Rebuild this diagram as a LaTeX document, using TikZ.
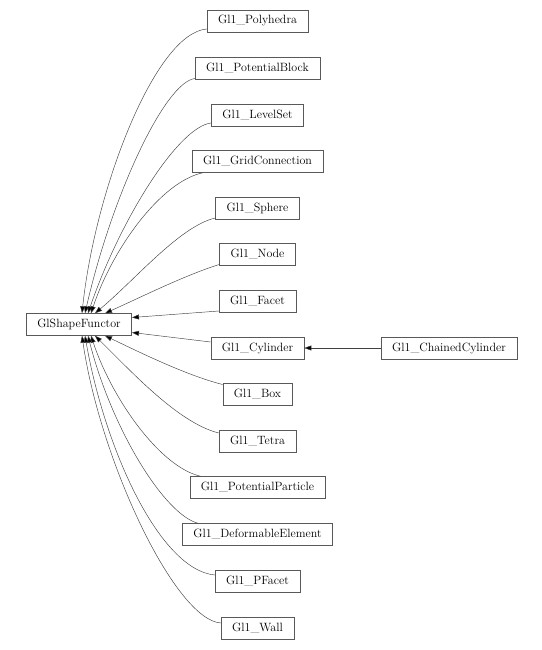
\documentclass[tikz,border=0pt]{standalone}
\usetikzlibrary{arrows.meta}
\begin{document}
\begin{tikzpicture}[x=1pt,y=-1pt,
  cls/.style={draw=black!65, line width=0.5pt, fill=white, minimum height=22pt, inner xsep=11pt, inner ysep=2pt, font=\fontsize{12}{14}\selectfont},
  edge/.style={draw=black!75, line width=0.45pt, -{Triangle[length=7pt,width=5pt,fill=black]}}]
\path[use as bounding box] (0,0) rectangle (541,650);
\node[cls] (gsf) at (79,324.5) {GlShapeFunctor};
\node[cls] (poly) at (257.5,21) {Gl1\_Polyhedra};
\node[cls] (pblock) at (257.5,68.5) {Gl1\_PotentialBlock};
\node[cls] (lset) at (257.5,115) {Gl1\_LevelSet};
\node[cls] (grid) at (257.5,161.5) {Gl1\_GridConnection};
\node[cls] (sphere) at (257.5,208) {Gl1\_Sphere};
\node[cls] (gnode) at (257.5,254.5) {Gl1\_Node};
\node[cls] (facet) at (257.5,301) {Gl1\_Facet};
\node[cls] (cyl) at (257.5,348) {Gl1\_Cylinder};
\node[cls] (chcyl) at (449,348) {Gl1\_ChainedCylinder};
\node[cls] (box) at (257.5,394.5) {Gl1\_Box};
\node[cls] (tetra) at (257.5,441) {Gl1\_Tetra};
\node[cls] (ppart) at (257.5,487.5) {Gl1\_PotentialParticle};
\node[cls] (deform) at (257.5,534.5) {Gl1\_DeformableElement};
\node[cls] (pfacet) at (257.5,581) {Gl1\_PFacet};
\node[cls] (wall) at (257.5,628) {Gl1\_Wall};

\draw[edge] ([yshift=-8pt]poly.west) .. controls (155,33) and (95,190) .. ([xshift=3pt]gsf.north);
\draw[edge] ([yshift=-10pt]pblock.west) .. controls (165,82) and (112,195) .. ([xshift=6pt]gsf.north);
\draw[edge] ([yshift=-8pt]lset.west) .. controls (178,127) and (120,220) .. ([xshift=9pt]gsf.north);
\draw[edge] ([xshift=11pt]grid.south west) .. controls (160,182) and (112,250) .. ([xshift=12pt]gsf.north);
\draw[edge] ([yshift=-10pt]sphere.west) .. controls (180,226) and (135,280) .. ([xshift=16pt]gsf.north);
\draw[edge] ([yshift=-10pt]gnode.west) .. controls (185,275) and (135,300) .. ([xshift=26pt]gsf.north);
\draw[edge] ([yshift=-10pt]facet.west) -- ([yshift=7pt]gsf.east);
\draw[edge] ([yshift=6pt]cyl.west) -- ([yshift=-8pt]gsf.east);
\draw[edge] (chcyl.west) -- (cyl.east);
\draw[edge] ([yshift=10pt]box.west) .. controls (185,375) and (135,350) .. ([xshift=26pt]gsf.south);
\draw[edge] ([yshift=8pt]tetra.west) .. controls (178,423) and (130,370) .. ([xshift=16pt]gsf.south);
\draw[edge] ([xshift=11pt]ppart.north west) .. controls (160,467) and (112,399) .. ([xshift=12pt]gsf.south);
\draw[edge] ([xshift=16pt]deform.north west) .. controls (165,515) and (112,430) .. ([xshift=9pt]gsf.south);
\draw[edge] ([yshift=6pt]pfacet.west) .. controls (160,570) and (105,450) .. ([xshift=6pt]gsf.south);
\draw[edge] ([yshift=5pt]wall.west) .. controls (175,620) and (100,460) .. ([xshift=3pt]gsf.south);
\end{tikzpicture}
\end{document}
